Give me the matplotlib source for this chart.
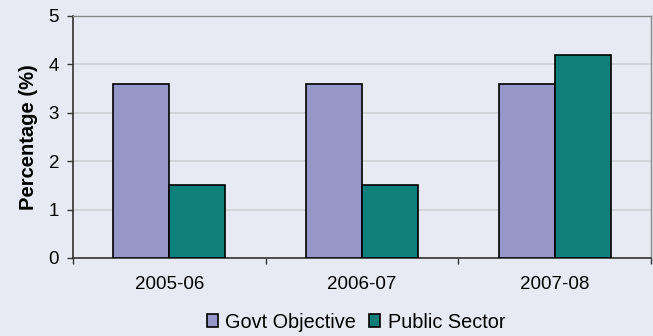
import matplotlib
matplotlib.use("Agg")
import matplotlib.pyplot as plt
import numpy as np

categories = ["2005-06", "2006-07", "2007-08"]
govt_objective = [3.6, 3.6, 3.6]
public_sector = [1.5, 1.5, 4.2]
series_names = ["Govt Objective", "Public Sector"]

plt.rcParams['font.family'] = ['Liberation Sans', 'DejaVu Sans']
bg = "#E7E9F3"
fig = plt.figure(figsize=(6.53, 3.36), dpi=100, facecolor=bg)
ax = fig.add_axes([73/653, (336-258)/336, (651-73)/653, (258-16)/336])
ax.set_facecolor(bg)

x = np.arange(len(categories))
w = 0.29
ax.bar(x - w/2, govt_objective, w, color="#9696C9", edgecolor="black", linewidth=1.2,
       label=series_names[0], zorder=3)
ax.bar(x + w/2, public_sector, w, color="#0F7F7B", edgecolor="black", linewidth=1.2,
       label=series_names[1], zorder=3)

ax.set_xlim(-0.5, 2.5)
ax.set_ylim(0, 5)
ax.set_yticks(range(0, 6))
ax.yaxis.grid(True, color="#D0D0D6", linewidth=1.2, zorder=0)
ax.set_xticks([-0.5, 0.5, 1.5, 2.5])
ax.set_xticklabels([])
ax.set_xticks(x, minor=True)
ax.set_xticklabels(categories, minor=True)
ax.tick_params(axis='x', which='minor', length=0, pad=13, labelsize=13.5)
ax.tick_params(axis='x', which='major', length=4, width=1, color="#333333")
ax.tick_params(axis='y', length=4, width=1, color="#333333", labelsize=13.5, pad=6)

for s in ["left", "bottom"]:
    ax.spines[s].set_color("#333333")
    ax.spines[s].set_linewidth(1.2)
for s in ["top", "right"]:
    ax.spines[s].set_color("#8A8A8A")
    ax.spines[s].set_linewidth(1.0)

ax.set_ylabel("Percentage (%)", fontsize=14.5, fontweight="bold", labelpad=8)

leg = fig.legend(loc="center", bbox_to_anchor=(356/653, (336-322)/336), ncol=2,
                 frameon=False, fontsize=14.3, handlelength=0.57, handleheight=0.57,
                 handletextpad=0.36, columnspacing=0.65, borderpad=0)

fig.savefig("out.png", dpi=100, facecolor=bg)
